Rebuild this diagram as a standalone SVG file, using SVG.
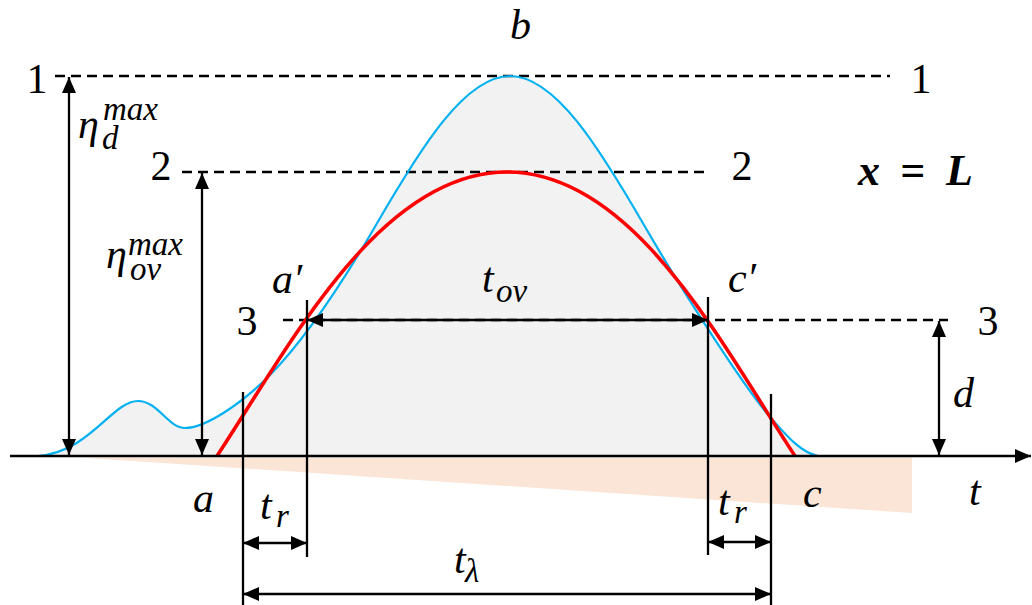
<svg xmlns="http://www.w3.org/2000/svg" width="1032" height="605" viewBox="0 0 1032 605">
<style>
.ln{stroke:#000;stroke-width:2.3;fill:none}
.dash{stroke:#000;stroke-width:2.4;stroke-dasharray:10,6;fill:none}
.t{font-family:"Liberation Serif","Times New Roman",serif;font-style:italic;font-size:42px;fill:#000}
.s{font-size:33px}
.n{font-family:"Liberation Serif","Times New Roman",serif;font-size:42px;fill:#000;text-anchor:middle}
.b{font-family:"Liberation Serif","Times New Roman",serif;font-style:italic;font-weight:bold;font-size:44px;fill:#000}
</style>
<defs>
<marker id="ah" markerUnits="userSpaceOnUse" markerWidth="16" markerHeight="14" refX="16" refY="7" orient="auto-start-reverse">
<path d="M0,0 L16,7 L0,14 Z" fill="#000"/>
</marker>
</defs>
<g id="shading">
<polygon points="80,457.5 912,457.5 912,513" fill="#FBE5D6"/>
<path d="M38,456 C90,452 112,401 138,401 C158,401 168,428 185,428 C205,428 240,405 270,375 C305,339.3 341,285.3 376,225 C421,147.4 465,76 510,76 C555,76 599,147.4 644,225 C684,294 746,390 771,418 C786,435 800,452 818,456 Z" fill="#F2F2F2"/>
</g>
<g id="levels">
<line class="dash" x1="55" y1="76" x2="890" y2="76"/>
<line class="dash" x1="182" y1="172" x2="708" y2="172"/>
<line class="dash" x1="283" y1="320" x2="948" y2="320"/>
</g>
<g id="curves">
<path d="M38,456 C90,452 112,401 138,401 C158,401 168,428 185,428 C205,428 240,405 270,375 C305,339.3 341,285.3 376,225 C421,147.4 465,76 510,76 C555,76 599,147.4 644,225 C684,294 746,390 771,418 C786,435 800,452 818,456" fill="none" stroke="#00B0F0" stroke-width="2.2"/>
<path d="M217,456 C290,345 380,172 507,172 C634,172 722,345 795,456" fill="none" stroke="#FF0000" stroke-width="3.6"/>
</g>
<g id="connectors">
<line class="ln" x1="10" y1="456" x2="1031" y2="456" stroke-width="2.6" marker-end="url(#ah)"/>
<line class="ln" x1="69" y1="77" x2="69" y2="455" marker-start="url(#ah)" marker-end="url(#ah)"/>
<line class="ln" x1="202" y1="173" x2="202" y2="455" marker-start="url(#ah)" marker-end="url(#ah)"/>
<line class="ln" x1="939" y1="321" x2="939" y2="455" marker-start="url(#ah)" marker-end="url(#ah)"/>
<line class="ln" x1="307" y1="320" x2="708" y2="320" marker-start="url(#ah)" marker-end="url(#ah)"/>
<line class="ln" x1="307" y1="300" x2="307" y2="557"/>
<line class="ln" x1="243" y1="392" x2="243" y2="605"/>
<line class="ln" x1="708" y1="297" x2="708" y2="555"/>
<line class="ln" x1="771" y1="394" x2="771" y2="605"/>
<line class="ln" x1="243" y1="543" x2="307" y2="543" marker-start="url(#ah)" marker-end="url(#ah)"/>
<line class="ln" x1="708" y1="542" x2="771" y2="542" marker-start="url(#ah)" marker-end="url(#ah)"/>
<line class="ln" x1="243" y1="594" x2="771" y2="594" marker-start="url(#ah)" marker-end="url(#ah)"/>
</g>
<g id="labels">
<text class="n" x="37" y="93">1</text>
<text class="n" x="921" y="93">1</text>
<text class="n" x="161" y="180">2</text>
<text class="n" x="742" y="180">2</text>
<text class="n" x="247" y="335">3</text>
<text class="n" x="988" y="335">3</text>
<text class="t" x="510" y="39">b</text>
<text class="t" x="78" y="138">η</text>
<text class="t s" x="103" y="120">max</text>
<text class="t s" x="102" y="149">d</text>
<text class="t" x="106" y="268">η</text>
<text class="t s" x="128" y="255">max</text>
<text class="t s" x="130" y="280">ov</text>
<text class="t" x="272" y="293">a′</text>
<text class="t" x="728" y="292">c′</text>
<text class="t" x="482" y="292">t<tspan class="s" x="496" y="302">ov</tspan></text>
<text class="t" x="953" y="407">d</text>
<text class="t" x="193" y="512">a</text>
<text class="t" x="803" y="507">c</text>
<text class="t" x="969" y="505">t</text>
<text class="t" x="260" y="519">t<tspan class="s" x="276" y="527">r</tspan></text>
<text class="t" x="718" y="515">t<tspan class="s" x="734" y="523">r</tspan></text>
<text class="t" x="454" y="573">t<tspan class="s" x="465" y="582">λ</tspan></text>
<text class="b" x="858" y="185">x</text>
<text class="b" x="900" y="185" font-style="normal">=</text>
<text class="b" x="946" y="185">L</text>
</g>
</svg>
